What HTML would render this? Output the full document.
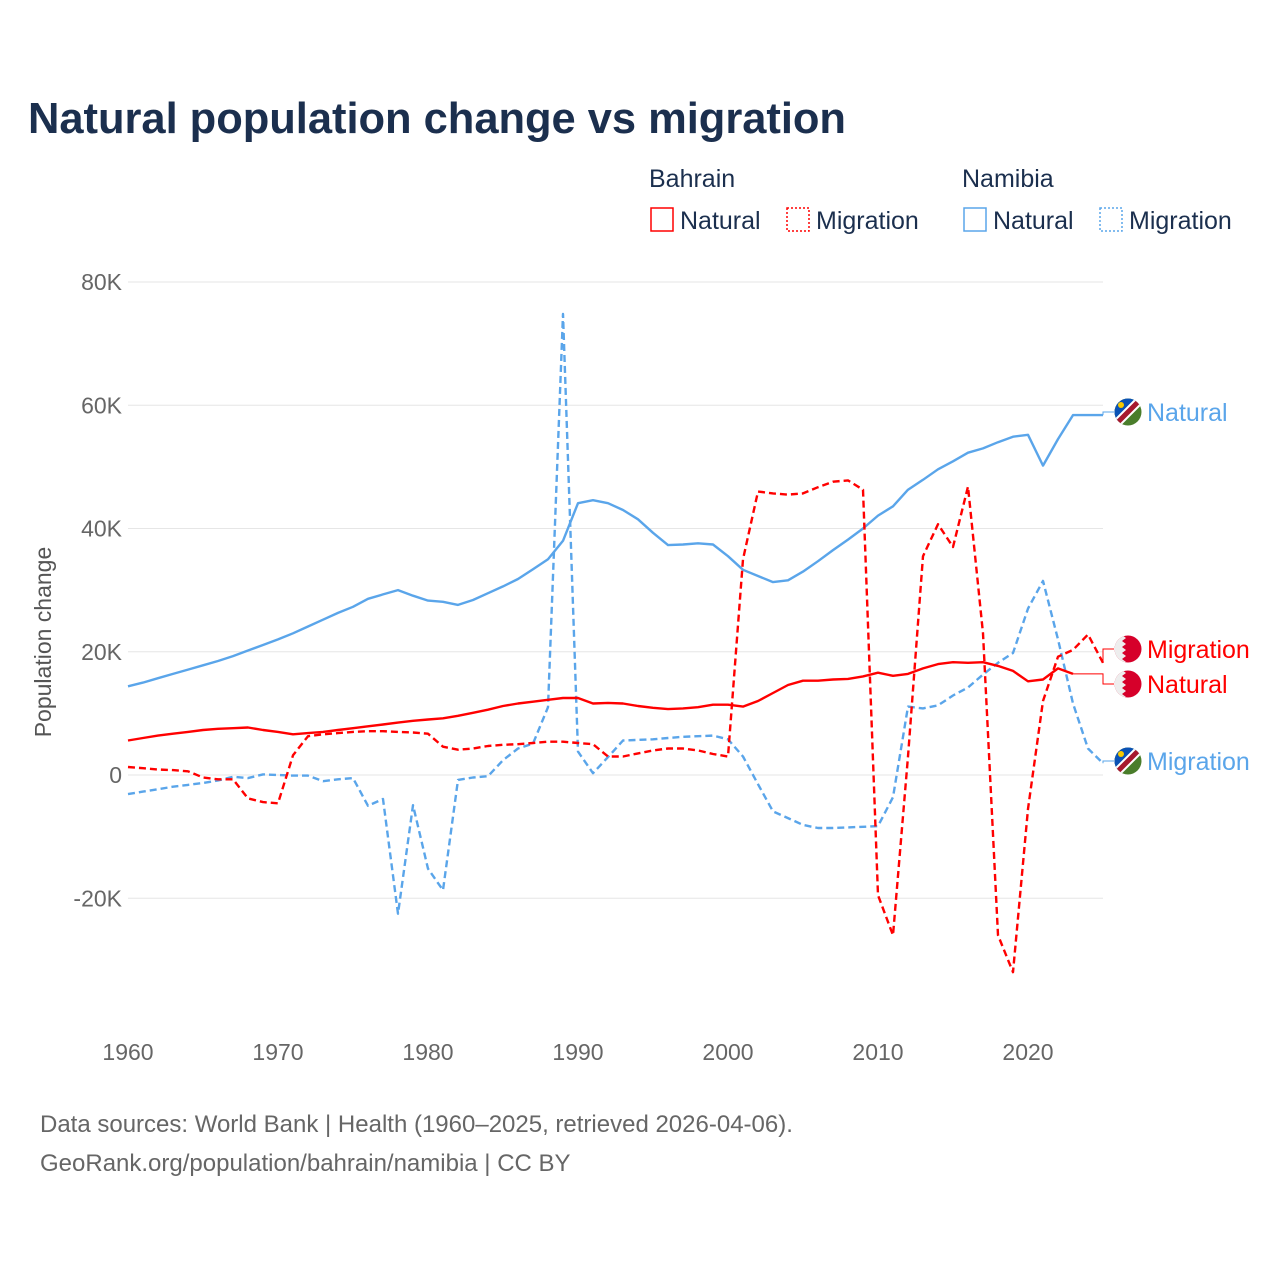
<!DOCTYPE html>
<html><head><meta charset="utf-8"><style>
body{margin:0;background:#fff;font-family:"Liberation Sans",sans-serif}
</style></head><body>
<svg id="chart" width="1280" height="1280" viewBox="0 0 1280 1280" xmlns="http://www.w3.org/2000/svg" font-family="Liberation Sans, sans-serif">
<defs>
<clipPath id="fc"><circle cx="0" cy="0" r="13.5"/></clipPath>
<symbol id="nam" viewBox="-14 -14 28 28" overflow="visible">
<g clip-path="url(#fc)"><rect x="-14" y="-14" width="28" height="28" fill="#4a7d2b"/><polygon points="-14,-14 14,-14 -14,14" fill="#0a52b5"/><line x1="-16" y1="16" x2="16" y2="-16" stroke="#fff" stroke-width="9"/><line x1="-16" y1="16" x2="16" y2="-16" stroke="#a6192e" stroke-width="5"/><circle cx="-7" cy="-7" r="3" fill="#f7c900"/></g>
</symbol>
<symbol id="bah" viewBox="-14 -14 28 28" overflow="visible">
<g clip-path="url(#fc)"><rect x="-14" y="-14" width="28" height="28" fill="#d6002a"/><polygon points="-14,-14 -6,-14 -2,-11 -6,-8 -2,-5 -6,-2 -2,1 -6,4 -2,7 -6,10 -2,13 -6,14 -14,14" fill="#eeeeee"/></g>
</symbol>
</defs>
<text x="28" y="133" font-size="43.5" font-weight="bold" fill="#1b2f4e" textLength="818">Natural population change vs migration</text>
<g font-size="25" fill="#1b2f4e">
<text x="649" y="187">Bahrain</text>
<text x="962" y="187">Namibia</text>
<g><rect x="651" y="208" width="22" height="23" fill="none" stroke="#ff0000" stroke-width="1.5"/><text x="680" y="229">Natural</text></g>
<g><rect x="787" y="208" width="22" height="23" fill="none" stroke="#ff0000" stroke-width="1.5" stroke-dasharray="2,2"/><text x="816" y="229">Migration</text></g>
<g><rect x="964" y="208" width="22" height="23" fill="none" stroke="#5aa5ea" stroke-width="1.5"/><text x="993" y="229">Natural</text></g>
<g><rect x="1100" y="208" width="22" height="23" fill="none" stroke="#5aa5ea" stroke-width="1.5" stroke-dasharray="2,2"/><text x="1129" y="229">Migration</text></g>
</g>
<g id="grid"></g><g id="axes"></g><g id="series"></g><g id="labels"></g>
<text transform="translate(51,642) rotate(-90)" text-anchor="middle" font-size="23" fill="#555">Population change</text>
<text x="40" y="1132" font-size="24" fill="#666">Data sources: World Bank | Health (1960–2025, retrieved 2026-04-06).</text>
<text x="40" y="1171" font-size="24" fill="#666">GeoRank.org/population/bahrain/namibia | CC BY</text>
</svg>
<script>
const years = Array.from({length:66},(_,i)=>1960+i);
const yTicks = [-20,0,20,40,60,80];
const yTickLabels = ["-20K","0","20K","40K","60K","80K"];
const xTicks = [1960,1970,1980,1990,2000,2010,2020];
const namNatural = [14.4,15,15.7,16.4,17.1,17.8,18.5,19.3,20.2,21.1,22.0,23.0,24.1,25.2,26.3,27.3,28.6,29.3,30.0,29.1,28.3,28.1,27.6,28.4,29.5,30.6,31.8,33.4,35.0,38.0,44.1,44.6,44.1,43.0,41.5,39.3,37.3,37.4,37.6,37.4,35.5,33.3,32.3,31.3,31.6,33.0,34.7,36.5,38.2,40.0,42.1,43.6,46.3,47.9,49.6,50.9,52.3,53.0,54.0,54.9,55.2,50.2,54.5,58.4,58.4,58.4];
const namMigration = [-3.1,-2.7,-2.3,-1.9,-1.6,-1.3,-0.9,-0.3,-0.5,0.1,0,-0.1,-0.1,-1.0,-0.7,-0.5,-5.0,-3.9,-22.5,-4.9,-15.2,-18.7,-0.8,-0.4,-0.2,2.4,4.3,5.1,11,74.8,3.8,0.3,2.9,5.6,5.7,5.8,6.0,6.2,6.3,6.4,5.8,3.0,-1.5,-5.9,-7.0,-8.1,-8.6,-8.6,-8.5,-8.4,-8.3,-3.6,11.1,10.8,11.3,12.9,14.2,16.3,18.2,19.8,27.0,31.5,22.0,11.6,4.3,1.9];
const bahNatural = [5.6,6.0,6.4,6.7,7.0,7.3,7.5,7.6,7.7,7.3,7.0,6.6,6.8,7.0,7.3,7.6,7.9,8.2,8.5,8.8,9.0,9.2,9.6,10.1,10.6,11.2,11.6,11.9,12.2,12.5,12.5,11.6,11.7,11.6,11.2,10.9,10.7,10.8,11.0,11.4,11.4,11.1,12.0,13.3,14.6,15.3,15.3,15.5,15.6,16.0,16.6,16.1,16.4,17.3,18.0,18.3,18.2,18.3,17.7,16.9,15.2,15.5,17.3,16.4];
const bahMigration = [1.3,1.1,0.9,0.8,0.6,-0.4,-0.7,-0.7,-3.8,-4.4,-4.6,3.2,6.3,6.6,6.8,7.0,7.1,7.1,7.0,6.9,6.7,4.6,4.1,4.3,4.7,4.9,5.0,5.2,5.4,5.4,5.2,5.0,3.0,3.0,3.5,4.0,4.3,4.3,4.0,3.4,3.0,35,46.0,45.7,45.5,45.7,46.7,47.6,47.8,46.3,-19.5,-26,3,35.5,40.7,37,46.8,23,-26,-32,-5.5,12,19.2,20.3,22.8,18.2];
const NS="http://www.w3.org/2000/svg";
const X = y => 128 + (y-1960)*15;
const Y = v => 775 - v*6.1625;
function mk(tag, attrs, parent){const e=document.createElementNS(NS,tag);for(const k in attrs)e.setAttribute(k,attrs[k]);parent.appendChild(e);return e;}
const grid=document.getElementById('grid'), axes=document.getElementById('axes'), series=document.getElementById('series'), labels=document.getElementById('labels');
yTicks.forEach((t,i)=>{
  const l=mk('line',{x1:128,x2:1103,y1:Y(t),y2:Y(t),stroke:'#e6e6e6','stroke-width':1},grid);
  
  
  const tx=mk('text',{x:122,y:Y(t)+8,'text-anchor':'end','font-size':23,fill:'#666'},axes);
  tx.textContent=yTickLabels[i];
  
  
});
xTicks.forEach(t=>{
  const tx=mk('text',{x:X(t),y:1060,'text-anchor':'middle','font-size':23,fill:'#666'},axes);
  tx.textContent=t;
  
  
});
function line(vals,color,dash,name){
  const d=vals.map((v,i)=>(i?'L':'M')+X(years[i]).toFixed(1)+','+Y(v).toFixed(1)).join(' ');
  const p=mk('path',{d:d,fill:'none',stroke:color,'stroke-width':2.4,'stroke-linejoin':'round'},series);
  if(dash)p.setAttribute('stroke-dasharray','7,4');
  
  
  return p;
}
line(namNatural,'#5aa5ea',false,'namibia-natural-line');
line(namMigration,'#5aa5ea',true,'namibia-migration-line');
line(bahNatural,'#ff0000',false,'bahrain-natural-line');
line(bahMigration,'#ff0000',true,'bahrain-migration-line');
function endLabel(vals,color,ly,text,flag,name){
  const n=vals.length-1, x0=X(years[n]), y0=Y(vals[n]);
  const c=mk('path',{d:`M${x0},${y0} L1103,${y0} L1103,${ly} L1114,${ly}`,fill:'none',stroke:color,'stroke-width':1},labels);
  
  
  const u=mk('use',{href:'#'+flag,x:1114,y:ly-14,width:28,height:28},labels);
  
  
  const t=mk('text',{x:1147,y:ly+9,'font-size':25,fill:color},labels);
  t.textContent=text;
  
  
}
endLabel(namNatural,'#5aa5ea',412,'Natural','nam','namibia-natural');
endLabel(bahMigration,'#ff0000',649,'Migration','bah','bahrain-migration');
endLabel(bahNatural,'#ff0000',684,'Natural','bah','bahrain-natural');
endLabel(namMigration,'#5aa5ea',761,'Migration','nam','namibia-migration');
</script>
</body></html>
